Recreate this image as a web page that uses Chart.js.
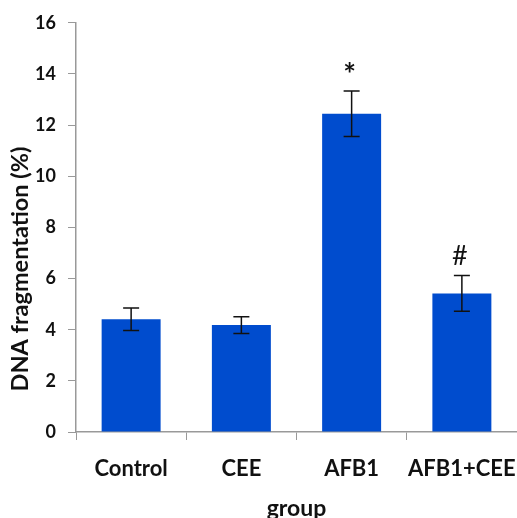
<!DOCTYPE html>
<html>
<head>
<meta charset="utf-8">
<script src="https://cdn.jsdelivr.net/npm/chart.js@4"></script>
<style>
  html, body { margin: 0; padding: 0; background: #fff; }
  #wrap { width: 517px; height: 518px; }
</style>
</head>
<body>
<div id="wrap"><canvas id="chart" width="517" height="518"></canvas></div>
<script>
let groups = ['Control', 'CEE', 'AFB1', 'AFB1+CEE'];
let fragmentation = [4.41, 4.18, 12.44, 5.42];
let sem = [0.44, 0.33, 0.89, 0.70];
let marks = ['', '', '*', '#'];
let yTicks = [0, 2, 4, 6, 8, 10, 12, 14, 16];
let yTitle = 'DNA fragmentation (%)';

const fontFam = 'Lato, "Open Sans", sans-serif';

// error bars, significance marks and the y title (sits below centre in the original)
const errorBars = {
  id: 'errorBars',
  afterDatasetsDraw(chart) {
    const ctx = chart.ctx;
    const x = chart.scales.x, y = chart.scales.y;
    ctx.save();
    ctx.strokeStyle = '#111';
    ctx.lineWidth = 1.5;
    fragmentation.forEach((v, i) => {
      const cx = x.getPixelForValue(i);
      const top = y.getPixelForValue(v + sem[i]);
      const bot = y.getPixelForValue(v - sem[i]);
      ctx.beginPath();
      ctx.moveTo(cx, top); ctx.lineTo(cx, bot);
      ctx.moveTo(cx - 8, top); ctx.lineTo(cx + 8, top);
      ctx.moveTo(cx - 8, bot); ctx.lineTo(cx + 8, bot);
      ctx.stroke();
      if (marks[i]) {
        ctx.fillStyle = '#111';
        ctx.font = (marks[i] == '*' ? 'bold 30px ' : '27px ') + fontFam;
        ctx.textAlign = 'center';
        ctx.textBaseline = 'alphabetic';
        ctx.fillText(marks[i], cx - 2, top - (marks[i] == '*' ? 6 : 10));
      }
    });
    ctx.translate(20, 269);
    ctx.rotate(-Math.PI / 2);
    ctx.fillStyle = '#111';
    ctx.font = 'bold 23.5px ' + fontFam;
    ctx.textAlign = 'center';
    ctx.textBaseline = 'middle';
    ctx.fillText(yTitle, 0, 0);
    ctx.restore();
  }
};

let chart = new Chart(document.getElementById('chart').getContext('2d'), {
  type: 'bar',
  data: {
    labels: groups,
    datasets: [{
      label: yTitle,
      data: fragmentation,
      backgroundColor: 'rgb(0,76,206)',
      categoryPercentage: 1,
      barPercentage: 0.535
    }]
  },
  options: {
    responsive: false,
    animation: false,
    layout: { padding: { left: 6, right: 0, top: 6, bottom: 0 } },
    plugins: { legend: { display: false }, tooltip: { enabled: false } },
    scales: {
      x: {
        afterFit(s) { s.height = 86; s.paddingLeft = 0; s.paddingRight = 0; },
        grid: { drawOnChartArea: false, color: '#999', tickLength: 8 },
        border: { color: '#999', width: 1.5 },
        ticks: { color: '#111', font: { family: fontFam, size: 22, weight: 'bold' }, padding: 16,
                 autoSkip: false, maxRotation: 0 },
        title: { display: true, text: 'group', color: '#111', padding: { top: 0, bottom: -4 },
                 font: { family: fontFam, size: 23, weight: 'bold' } }
      },
      y: {
        min: 0, max: 16,
        afterFit(s) { s.width = 70; },
        afterBuildTicks(s) { s.ticks = yTicks.map(v => ({ value: v })); },
        grid: { drawOnChartArea: false, color: '#999', tickLength: 8 },
        border: { color: '#999', width: 1.5 },
        ticks: { color: '#111', font: { family: fontFam, size: 18, weight: 'bold' }, padding: 12 },
        title: { display: false }
      }
    }
  },
  plugins: [errorBars]
});
</script>
</body>
</html>
